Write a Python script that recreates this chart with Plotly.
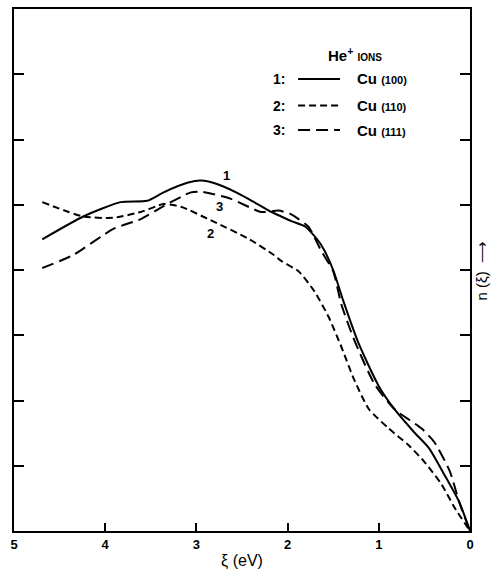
import plotly.graph_objects as go

# Energy xi (eV) and n(xi) for each crystal face (He+ ions)
xi_100 = [4.69, 4.24, 3.83, 3.54, 3.36, 3.09, 2.95, 2.76, 2.48, 2.18, 2.07, 1.96, 1.80, 1.63, 1.50, 1.39, 1.22, 1.00, 0.83, 0.61, 0.45, 0.28, 0.12, 0.0]
n_100 = [4.47, 4.82, 5.04, 5.06, 5.19, 5.34, 5.37, 5.31, 5.13, 4.89, 4.82, 4.75, 4.66, 4.38, 4.00, 3.53, 2.87, 2.22, 1.87, 1.51, 1.27, 0.86, 0.45, 0.0]

xi_110 = [4.69, 4.24, 3.91, 3.61, 3.36, 3.17, 2.81, 2.43, 2.15, 2.07, 1.88, 1.71, 1.55, 1.41, 1.27, 1.11, 0.89, 0.67, 0.50, 0.31, 0.17, 0.0]
n_110 = [5.04, 4.82, 4.80, 4.89, 5.01, 4.97, 4.74, 4.48, 4.23, 4.14, 3.98, 3.68, 3.28, 2.82, 2.32, 1.87, 1.57, 1.31, 1.06, 0.71, 0.36, 0.0]

xi_111 = [4.69, 4.35, 3.91, 3.61, 3.36, 3.06, 2.95, 2.62, 2.29, 2.10, 1.97, 1.88, 1.77, 1.63, 1.50, 1.41, 1.27, 1.05, 0.83, 0.53, 0.39, 0.22, 0.12, 0.0]
n_111 = [4.03, 4.23, 4.63, 4.78, 4.98, 5.19, 5.20, 5.09, 4.89, 4.91, 4.86, 4.78, 4.66, 4.29, 3.98, 3.47, 2.93, 2.26, 1.87, 1.57, 1.36, 0.91, 0.45, 0.0]

x_ticks = [5, 4, 3, 2, 1, 0]
y_ticks = [1, 2, 3, 4, 5, 6, 7]

series = [
    ("1", "Cu", "(100)", xi_100, n_100, "solid"),
    ("2", "Cu", "(110)", xi_110, n_110, "7px,4px"),
    ("3", "Cu", "(111)", xi_111, n_111, "12px,6px"),
]

FONT = "Liberation Sans, Arial, sans-serif"
fig = go.Figure()
for num, cu, face, x, y, dash in series:
    fig.add_trace(go.Scatter(
        x=x, y=y, mode="lines", name=f"{cu} {face}",
        line=dict(color="black", width=2, dash=dash, shape="spline", smoothing=0.6),
        showlegend=False,
    ))

# curve number labels
curve_labels = [("1", 2.67, 5.45), ("3", 2.75, 4.98), ("2", 2.84, 4.56)]
for t, xx, yy in curve_labels:
    fig.add_annotation(x=xx, y=yy, text=f"<b>{t}</b>", showarrow=False,
                       xanchor="center", yanchor="middle",
                       font=dict(family=FONT, size=13, color="black"))

# legend block (paper coords)
fig.add_annotation(xref="paper", yref="paper", x=0.748, y=0.913,
                   xanchor="center", yanchor="middle",
                   text="<b>He<sup>+</sup></b> <span style='font-size:10px'><b>IONS</b></span>",
                   showarrow=False, font=dict(family=FONT, size=15, color="black"))
rows_y = [0.866, 0.815, 0.768]
for (num, cu, face, x, y, dash), ry in zip(series, rows_y):
    fig.add_annotation(xref="paper", yref="paper", x=0.598, y=ry,
                       xanchor="right", yanchor="middle",
                       text=f"<b>{num}:</b>", showarrow=False,
                       font=dict(family=FONT, size=14, color="black"))
    fig.add_shape(type="line", xref="paper", yref="paper", x0=0.623, x1=0.715, y0=ry, y1=ry,
                  line=dict(color="black", width=2, dash=dash))
    fig.add_annotation(xref="paper", yref="paper", x=0.748, y=ry,
                       xanchor="left", yanchor="middle",
                       text=f"<b>{cu}</b> <span style='font-size:11px'><b>{face}</b></span>",
                       showarrow=False, font=dict(family=FONT, size=15, color="black"))

# right-side axis label
fig.add_annotation(xref="paper", yref="paper", x=1.025, y=0.5,
                   xanchor="center", yanchor="middle",
                   text="n (ξ)  ⟶", textangle=-90, showarrow=False,
                   font=dict(family=FONT, size=15, color="black"))

fig.update_xaxes(range=[5, 0], tickvals=x_ticks, ticktext=[str(v) for v in x_ticks],
                 ticks="inside", ticklen=8, tickwidth=2, tickcolor="black",
                 showline=True, linecolor="black", linewidth=2, mirror=True,
                 showgrid=False, zeroline=False,
                 tickfont=dict(family=FONT, size=13, color="black", weight="bold"),
                 title=dict(text="ξ (eV)", font=dict(family=FONT, size=16, color="black"), standoff=4))
fig.update_yaxes(range=[0, 8], tickvals=y_ticks, showticklabels=False,
                 ticks="inside", ticklen=10, tickwidth=2, tickcolor="black",
                 showline=True, linecolor="black", linewidth=2, mirror="ticks",
                 showgrid=False, zeroline=False)

fig.update_layout(width=491, height=574, margin=dict(l=14, r=21, t=7, b=37),
                  plot_bgcolor="white", paper_bgcolor="white", showlegend=False)

fig.write_html("out.html")
